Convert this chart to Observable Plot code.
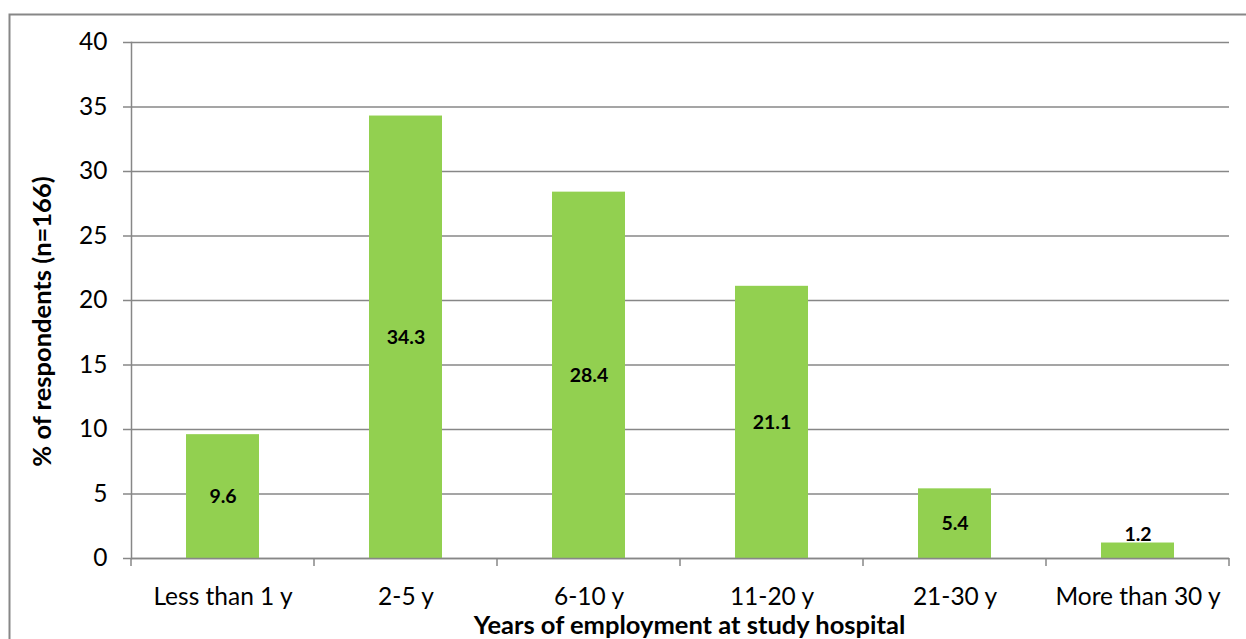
<!DOCTYPE html>
<html>
<head>
<meta charset="utf-8">
<script src="https://cdn.jsdelivr.net/npm/d3@7"></script>
<script src="https://cdn.jsdelivr.net/npm/@observablehq/plot@0.6"></script>
<style>
  html, body { margin: 0; padding: 0; background: #fff; }
</style>
</head>
<body>
<div id="chart"></div>
<script>
// Years of employment at the study hospital, % of respondents (n = 166)
const categories = ["Less than 1 y", "2-5 y", "6-10 y", "11-20 y", "21-30 y", "More than 30 y"];
const percents = [9.6, 34.3, 28.4, 21.1, 5.4, 1.2];
const yTicks = [0, 5, 10, 15, 20, 25, 30, 35, 40];
const yTitle = "% of respondents (n=166)";
const xTitle = "Years of employment at study hospital";

const rows = categories.map((category, i) => ({category, value: percents[i]}));

const FONT = "Lato, 'Open Sans', sans-serif";
const GRID = "#878787";
const BAR = "#92D050";

const chart = Plot.plot({
  width: 1246,
  height: 639,
  marginLeft: 131,
  marginRight: 17,
  marginTop: 42,
  marginBottom: 81,
  style: {fontFamily: FONT, fontSize: "24.5px", color: "#000", background: "#fff", overflow: "visible"},
  x: {domain: categories, paddingInner: 0.6, paddingOuter: 0.3, label: null},
  y: {domain: [0, 40], label: null},
  marks: [
    Plot.gridY(yTicks, {stroke: GRID, strokeOpacity: 1, strokeWidth: 1.5}),
    Plot.axisY(yTicks, {tickSize: 8, tickPadding: 16, stroke: GRID, strokeWidth: 1.5, label: null}),
    Plot.axisX({tickSize: 0, tickPadding: 29, label: null}),
    Plot.barY(rows, {x: "category", y: "value", fill: BAR}),
    Plot.ruleY([0], {stroke: GRID, strokeWidth: 1.5}),
    Plot.frame({anchor: "left", stroke: GRID, strokeWidth: 1.5}),
    // value labels: centred in the bar, or just above it when the bar is too short
    Plot.text(rows, {
      filter: d => d.value >= 3,
      x: "category", y: d => d.value / 2,
      text: d => d.value.toFixed(1),
      fontWeight: "bold", fontSize: 19.5
    }),
    Plot.text(rows, {
      filter: d => d.value < 3,
      x: "category", y: "value",
      text: d => d.value.toFixed(1),
      lineAnchor: "bottom", dy: -2,
      fontWeight: "bold", fontSize: 19.5
    }),
    Plot.text([yTitle], {
      text: d => d, frameAnchor: "left", textAnchor: "middle", rotate: -90,
      dx: -89, dy: 21, fontWeight: "bold", fontSize: 25.5
    }),
    Plot.text([xTitle], {
      text: d => d, frameAnchor: "bottom", textAnchor: "middle",
      dx: 9, dy: 57, lineAnchor: "top", fontWeight: "bold", fontSize: 25.5
    })
  ]
});

// category boundary ticks below the baseline, from the band scale
const xs = chart.scale("x");
const ys = chart.scale("y");
const gap = (xs.step - xs.bandwidth) / 2;
const edges = categories.map(c => xs.apply(c) - gap);
edges.push(xs.apply(categories[categories.length - 1]) + xs.bandwidth + gap);
const y0 = ys.apply(0);

const svg = d3.select(chart);
svg.append("g")
  .attr("stroke", GRID)
  .attr("stroke-width", 1.5)
  .selectAll("line")
  .data(edges)
  .join("line")
  .attr("x1", d => d).attr("x2", d => d)
  .attr("y1", y0).attr("y2", y0 + 8);

// outer chart border
svg.append("rect")
  .attr("x", 9.5).attr("y", 14.5)
  .attr("width", 1300).attr("height", 700)
  .attr("fill", "none")
  .attr("stroke", GRID)
  .attr("stroke-width", 2);

document.getElementById("chart").appendChild(chart);
</script>
</body>
</html>
